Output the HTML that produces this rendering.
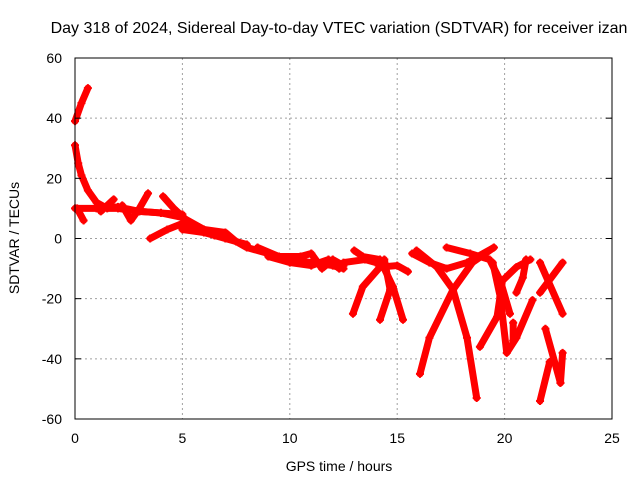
<!DOCTYPE html>
<html><head><meta charset="utf-8"><style>
body{margin:0;background:#fff;}
svg{display:block;font-family:"Liberation Sans",sans-serif;}
</style></head><body>
<svg id="chart" width="640" height="480">
<text x="339" y="33" font-size="16" text-anchor="middle">Day 318 of 2024, Sidereal Day-to-day VTEC variation (SDTVAR) for receiver izan</text>
<text x="339" y="471" font-size="14" text-anchor="middle">GPS time / hours</text>
<text transform="translate(19,238) rotate(-90)" font-size="14" text-anchor="middle">SDTVAR / TECUs</text>
<g id="grid"></g><g id="marks"></g><g id="axes"></g>
</svg>
<script>
const xTicks=[0,5,10,15,20,25];
const yTicks=[-60,-40,-20,0,20,40,60];
const tracks=[
[[0,39],[0.3,45],[0.6,50]],
[[0,31],[0.15,25],[0.3,21],[0.6,16],[1,12],[1.5,10],[2,10],[3,9],[4,8.5],[5,7],[6,3],[7,1],[8,-3],[9,-5],[10,-7],[11,-8],[12,-9],[12.5,-10]],
[[0,10],[1,10],[2,10.5],[3,9],[4,8.5],[5,8]],
[[0.1,10],[0.4,6]],
[[1.2,9],[1.8,13]],
[[2.2,11],[2.6,6],[3.0,10],[3.4,15]],
[[4.1,14],[4.6,10],[5.2,6],[6,3],[7,2],[7.5,-1]],
[[3.5,0],[4.3,3],[5,5],[5.6,4],[6.5,1]],
[[5,3],[6,2],[7,0],[8,-2]],
[[8.5,-3],[9.5,-6],[10.5,-6],[11,-5],[11.5,-10],[12,-7],[12.5,-9]],
[[9,-6],[10,-8],[11,-9],[11.8,-7],[12.3,-10]],
[[12.5,-8],[13.5,-7],[14,-8],[14.5,-9]],
[[12.94,-25],[13.4,-16],[14.2,-9.5],[15,-9],[15.5,-11]],
[[14.2,-27],[14.67,-17],[14.4,-7]],
[[15.27,-27],[14.8,-16],[14.2,-7],[13.4,-6],[13,-4]],
[[15.7,-5],[16.5,-8],[17.3,-10],[18.25,-8],[19.5,-3]],
[[15.9,-4],[16.85,-9.5],[17.6,-17],[18.25,-33],[18.7,-53]],
[[16.06,-45],[16.5,-33],[17.6,-17],[18.5,-8],[19.5,-3]],
[[17.3,-3],[18.4,-5],[19.3,-7],[19.8,-14],[20.25,-25]],
[[18.85,-36],[19.65,-26],[19.9,-14],[20.55,-9.5],[21.2,-7]],
[[19.45,-8],[19.8,-19.5],[20.1,-38],[20.55,-33],[21.3,-20.5]],
[[20.4,-28],[20.4,-34]],
[[21,-7],[20.85,-13],[20.55,-18]],
[[21.65,-8],[22.7,-25]],
[[22.7,-8],[21.65,-18]],
[[21.9,-30],[22.6,-48]],
[[21.65,-54],[22.1,-41]],
[[22.7,-38],[22.6,-48]]
];
const X=v=>75+v*(612-75)/25, Y=v=>238.5-v*(419-58)/120;
const NS="http://www.w3.org/2000/svg";
const g=document.getElementById('grid'),m=document.getElementById('marks'),a=document.getElementById('axes');
function mk(p,tag,at){const e=document.createElementNS(NS,tag);for(const k in at)e.setAttribute(k,at[k]);p.appendChild(e);return e;}
xTicks.forEach(t=>{
 if(t>0&&t<25){const l=mk(g,'line',{x1:X(t),x2:X(t),y1:58,y2:419,stroke:'#a0a0a0','stroke-dasharray':'2,3'});
 
 }
 const tk=mk(a,'text',{x:X(t),y:443,'font-size':14,'text-anchor':'middle'});tk.textContent=t;
 
 
});
yTicks.forEach(t=>{
 if(t>-60&&t<60){const l=mk(g,'line',{x1:75,x2:612,y1:Y(t),y2:Y(t),stroke:'#a0a0a0','stroke-dasharray':'2,3'});
 
 
 mk(a,'line',{x1:75,x2:81,y1:Y(t),y2:Y(t),stroke:'#000'});mk(a,'line',{x1:606,x2:612,y1:Y(t),y2:Y(t),stroke:'#000'});}
 const tk=mk(a,'text',{x:62,y:Y(t)+5,'font-size':14,'text-anchor':'end'});tk.textContent=t;
 
 
});
const fr=mk(a,'rect',{x:75,y:58,width:537,height:361,fill:'none',stroke:'#000'});


tracks.forEach(tr=>{
 const pl=mk(m,'polyline',{points:tr.map(p=>X(p[0])+','+Y(p[1])).join(' '),fill:'none',stroke:'#f00','stroke-width':7,'stroke-linejoin':'round','stroke-linecap':'round'});
 
 
 tr.forEach(p=>{const c=mk(m,'path',{d:`M${X(p[0])-4},${Y(p[1])}h8M${X(p[0])},${Y(p[1])-4}v8`,stroke:'#f00','stroke-width':2});
 
 });
});
</script>
</body></html>
